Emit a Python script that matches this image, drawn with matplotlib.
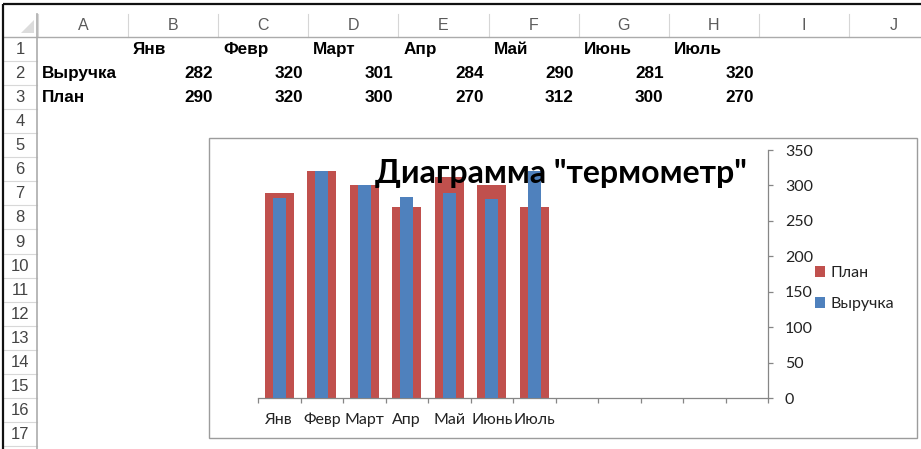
import matplotlib
matplotlib.use("Agg")
import matplotlib.pyplot as plt
import numpy as np
from matplotlib.patches import Rectangle, Polygon

W, H = 921, 449

# data from the sheet
months = ["Янв", "Февр", "Март", "Апр", "Май", "Июнь", "Июль"]
revenue = [282, 320, 301, 284, 290, 281, 320]
plan = [290, 320, 300, 270, 312, 300, 270]
row_names = ["Выручка", "План"]
col_letters = ["A", "B", "C", "D", "E", "F", "G", "H", "I", "J"]
row_numbers = list(range(1, 18))
y_ticks = [0, 50, 100, 150, 200, 250, 300, 350]
n_slots = 12  # category slots on the chart axis

RED = "#C0504D"
BLUE = "#4F81BD"
AXIS_GRAY = "#868686"
CELL_FONT = ["Liberation Sans", "DejaVu Sans"]
CHART_FONT = ["Lato", "Open Sans", "DejaVu Sans"]

# sheet geometry (pixels)
COL_X0, COL_W = 38, 90.1
ROW_Y0, ROW_H = 37, 24.06
HDR_TOP = 4
FRAME_X = 3


def col_left(i):
    return COL_X0 + i * COL_W


def row_top(r):
    return ROW_Y0 + (r - 1) * ROW_H


fig = plt.figure(figsize=(W / 100, H / 100), dpi=100)
fig.patch.set_facecolor("white")

# ---- spreadsheet background ----
bg = fig.add_axes([0, 0, 1, 1])
bg.set_xlim(0, W)
bg.set_ylim(H, 0)
bg.axis("off")

# column header separators and letters
for i, letter in enumerate(col_letters):
    x0 = col_left(i)
    bg.plot([x0, x0], [14, ROW_Y0], color="#d6d6d6", lw=0.8)
    bg.text(x0 + COL_W / 2, 25.5, letter, ha="center", va="center",
            fontsize=11.5, color="#5a5a5a", family=CELL_FONT)
bg.plot([FRAME_X, W], [ROW_Y0, ROW_Y0], color="#ababab", lw=1.0)

# corner triangle
bg.add_patch(Polygon([[21, 33], [34, 33], [34, 20]], closed=True,
                     facecolor="#dcdcdc", edgecolor="none"))

# row header
for r in row_numbers:
    y0 = row_top(r)
    bg.plot([FRAME_X, ROW_Y0], [y0 + ROW_H, y0 + ROW_H], color="#d8d8d8", lw=0.8)
    bg.text(20, y0 + ROW_H / 2 + 0.5, str(r), ha="center", va="center",
            fontsize=12, color="#444444", family=CELL_FONT)
bg.plot([ROW_Y0, ROW_Y0], [14, H], color="#ababab", lw=1.2)

# black screenshot frame
bg.plot([FRAME_X, FRAME_X], [HDR_TOP, H], color="#111111", lw=1.6,
        solid_capstyle="butt")
bg.plot([FRAME_X, W], [HDR_TOP, HDR_TOP], color="#111111", lw=1.6,
        solid_capstyle="butt")

# cell contents
for j, m in enumerate(months):
    bg.text(col_left(j + 1) + 5, row_top(1) + ROW_H / 2, m, ha="left",
            va="center", fontsize=12.3, fontweight="bold", color="black",
            family=CELL_FONT)
for r, (name, vals) in enumerate(zip(row_names, [revenue, plan]), start=2):
    yc = row_top(r) + ROW_H / 2
    bg.text(col_left(0) + 4, yc, name, ha="left", va="center", fontsize=12.3,
            fontweight="bold", color="black", family=CELL_FONT)
    for j, v in enumerate(vals):
        bg.text(col_left(j + 2) - 5, yc, str(v), ha="right", va="center",
                fontsize=12.3, fontweight="bold", color="black",
                family=CELL_FONT)

# chart frame
bg.add_patch(Rectangle((209, 138), 708, 300, facecolor="white",
                       edgecolor="#9c9c9c", lw=1.0, zorder=2))

# ---- chart ----
ax = fig.add_axes([258 / W, 1 - 398 / H, 510 / W, 248 / H])
ax.set_facecolor("none")
x = np.arange(len(months))
b_plan = ax.bar(x, plan, width=0.68, color=RED, label="План", zorder=2)
b_rev = ax.bar(x, revenue, width=0.31, color=BLUE, label="Выручка", zorder=3)

ax.set_xlim(-0.5, n_slots - 0.5)
ax.set_ylim(0, 350)
ax.set_yticks(y_ticks)
ax.yaxis.tick_right()
ax.set_xticks(np.arange(n_slots))
ax.set_xticklabels(months + [""] * (n_slots - len(months)))
ax.set_xticks(np.arange(n_slots + 1) - 0.5, minor=True)

for s in ["left", "top"]:
    ax.spines[s].set_visible(False)
for s in ["right", "bottom"]:
    ax.spines[s].set_color(AXIS_GRAY)
    ax.spines[s].set_linewidth(0.9)

ax.tick_params(axis="x", which="major", length=0, pad=10.5, labelsize=11.5,
               labelcolor="#222222")
ax.tick_params(axis="x", which="minor", length=3.6, width=0.9,
               color=AXIS_GRAY, direction="out")
ax.tick_params(axis="y", which="major", length=3.6, width=0.9,
               color=AXIS_GRAY, direction="out", pad=8.5, labelsize=11.5,
               labelcolor="#222222")
for lab in ax.get_xticklabels() + ax.get_yticklabels():
    lab.set_family(CHART_FONT)

leg = ax.legend(handles=[b_plan, b_rev], loc="center left",
                bbox_to_anchor=(815 / W, 1 - 288.5 / H),
                bbox_transform=fig.transFigure, frameon=False,
                borderpad=0, borderaxespad=0, handlelength=0.65,
                handleheight=0.65, handletextpad=0.3, labelspacing=1.05,
                prop={"family": CHART_FONT, "size": 11.5})
for t in leg.get_texts():
    t.set_color("#222222")

fig.text(561 / W, 1 - 174 / H, 'Диаграмма "термометр"', ha="center",
         va="center", fontsize=23, fontweight="bold", color="black",
         family=CHART_FONT, zorder=5)

fig.savefig("out.png", dpi=100)
